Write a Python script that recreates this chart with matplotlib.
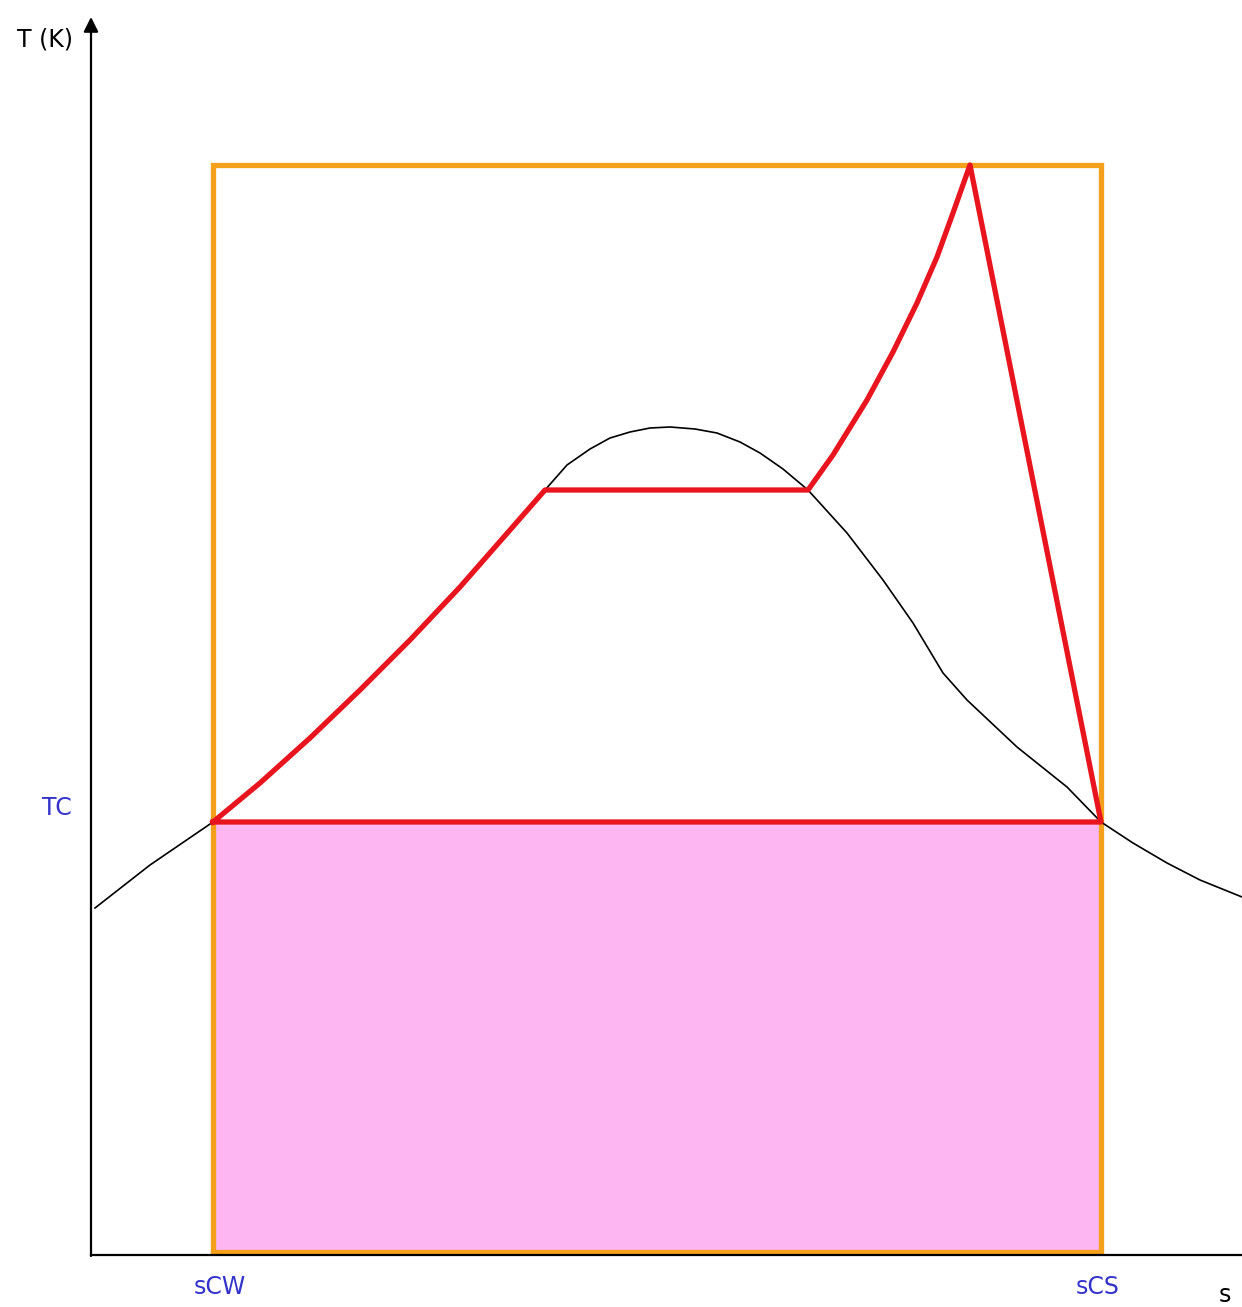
import numpy as np
import matplotlib
matplotlib.use("Agg")
import matplotlib.pyplot as plt

# T-s diagram, units are arbitrary (origin at the axis corner)
# saturation dome
dome_s = [4, 59, 122, 169, 219, 269, 319, 369, 419, 454,
          476, 499, 519, 539, 559, 579, 604, 626, 649, 669, 692, 717,
          756, 792, 822, 852, 876, 926, 976, 1010, 1042, 1076, 1109, 1151]
dome_T = [347, 390, 433, 472, 517, 565, 615, 668, 725, 765,
          790, 806, 817, 823, 827, 828, 826, 822, 813, 802, 786, 765,
          722, 675, 632, 582, 555, 508, 468, 433, 412, 392, 375, 358]

# cycle (red)
cycle_s = [122, 169, 219, 269, 319, 369, 419, 454, 717,
           742, 776, 802, 826, 846, 862, 879, 1010, 122]
cycle_T = [433, 472, 517, 565, 615, 668, 725, 765, 765,
           800, 855, 903, 952, 998, 1042, 1090, 433, 433]

# reference box (orange) and shaded area
s_cw, s_cs = 122, 1010
T_c, T_top, T_bot = 433, 1090, 3

labels = {"TC": (-34, 447), "sCW": (129, -32), "sCS": (1007, -32)}

blue = "#3333cc"
fig = plt.figure(figsize=(12.42, 13.07), dpi=100)
ax = fig.add_axes([0, 0, 1, 1])
ax.set_xlim(-91, 1151)
ax.set_ylim(-52, 1255)
ax.axis("off")

# pink area under TC
ax.fill_between([s_cw, s_cs], T_bot, T_c, color="#fdb6f1", lw=0, zorder=1)

# orange box
ax.plot([s_cw, s_cw, s_cs, s_cs, s_cw], [T_bot, T_top, T_top, T_bot, T_bot],
        color="#f5a01a", lw=3.8, zorder=2, solid_joinstyle="miter")

# dome
ax.plot(dome_s, dome_T, color="black", lw=1.2, zorder=3)

# cycle
ax.plot(cycle_s, cycle_T, color="#e8141e", lw=3.8, zorder=4,
        solid_joinstyle="round")

# axes with arrow on T
ax.plot([0, 1151], [0, 0], color="black", lw=1.6, zorder=5, clip_on=False)
ax.annotate("", xy=(0, 1238), xytext=(0, -1),
            arrowprops=dict(arrowstyle="-|>", color="black", lw=1.6,
                            mutation_scale=22, shrinkA=0, shrinkB=0))

ax.text(-46, 1215, "T (K)", fontsize=17, ha="center", va="center")
ax.text(1134, -40, "s", fontsize=17, ha="center", va="center")
for k, (x, y) in labels.items():
    ax.text(x, y, k, fontsize=17, color=blue, ha="center", va="center")

fig.savefig("out.png", dpi=100)
